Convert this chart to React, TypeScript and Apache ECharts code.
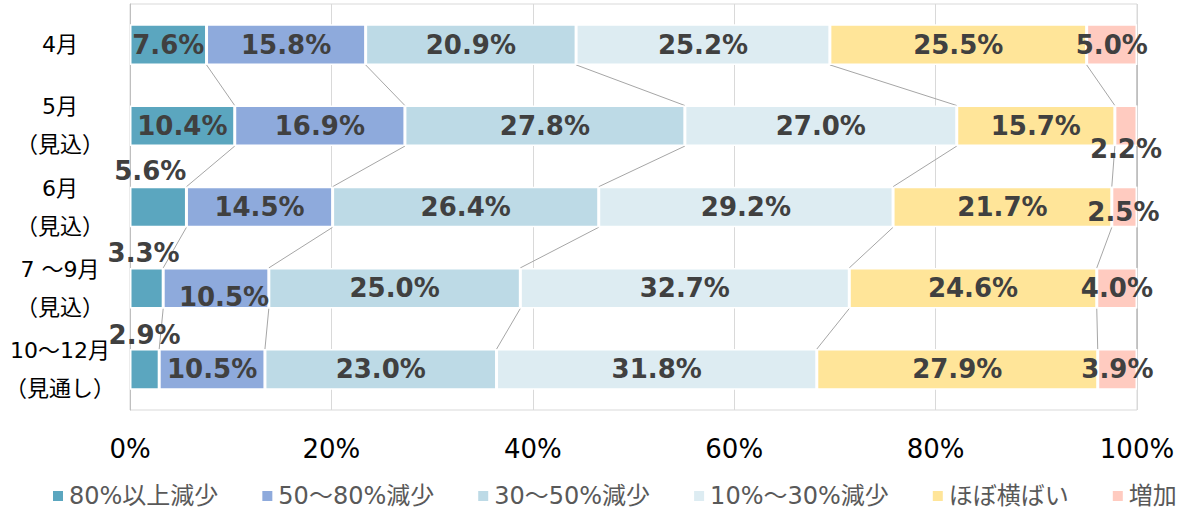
import React, { useEffect, useRef } from "react";
import * as echarts from "echarts";

const categories = [
  "4月",
  "5月\n（見込）",
  "6月\n（見込）",
  "7 ～9月\n（見込）",
  "10～12月\n（見通し）",
];
const seriesNames = [
  "80%以上減少",
  "50～80%減少",
  "30～50%減少",
  "10%～30%減少",
  "ほぼ横ばい",
  "増加",
];
const s80 = [7.6, 10.4, 5.6, 3.3, 2.9];
const s50 = [15.8, 16.9, 14.5, 10.5, 10.5];
const s30 = [20.9, 27.8, 26.4, 25.0, 23.0];
const s10 = [25.2, 27.0, 29.2, 32.7, 31.8];
const flat = [25.5, 15.7, 21.7, 24.6, 27.9];
const up = [5.0, 2.2, 2.5, 4.0, 3.9];
const xTicks = [0, 20, 40, 60, 80, 100];

const colors = ["#5BA6BF", "#8EAADC", "#BDDAE6", "#DDECF2", "#FFE599", "#FFCBC0"];

// label offsets (series index, category index) -> [dx, dy]
const labelOffsets: Record<string, [number, number]> = {
  "0-2": [-8, -36],
  "0-3": [-3, -35],
  "0-4": [0, -34],
  "1-3": [8, 9],
  "5-1": [0, 23],
  "5-2": [-1, 5],
};

const allSeries = [s80, s50, s30, s10, flat, up];

export default function App() {
  const ref = useRef<HTMLDivElement>(null);
  useEffect(() => {
    if (!ref.current) return;
    const chart = echarts.init(ref.current, undefined, { renderer: "svg" });

    const totals = categories.map((_, i) =>
      allSeries.reduce((a, s) => a + s[i], 0)
    );
    const norm = allSeries.map((s) => s.map((v, i) => (v / totals[i]) * 100));

    // cumulative boundaries
    const cum: number[][] = [];
    norm.forEach((s, k) => {
      cum.push(s.map((v, i) => (k === 0 ? v : cum[k - 1][i] + v)));
    });
    const linkData: number[][] = [];
    for (let k = 0; k < cum.length; k++) {
      for (let i = 0; i < categories.length - 1; i++) {
        linkData.push([cum[k][i], i, cum[k][i + 1]]);
      }
    }

    const barSeries = allSeries.map((s, k) => ({
      name: seriesNames[k],
      type: "bar",
      stack: "total",
      barCategoryGap: "50%",
      itemStyle: { color: colors[k], borderColor: "#ffffff", borderWidth: 1.5 },
      z: 3,
      data: s.map((v, i) => {
        const off = labelOffsets[`${k}-${i}`];
        const item: any = { value: norm[k][i], raw: v };
        if (off) item.label = { offset: off };
        return item;
      }),
      label: {
        show: true,
        position: "inside",
        fontFamily: "DejaVu Sans",
        fontWeight: "bold",
        fontSize: 26,
        color: "#404040",
        formatter: (p: any) => p.data.raw.toFixed(1) + "%",
      },
    }));

    chart.setOption({
      animation: false,
      backgroundColor: "#ffffff",
      grid: {
        left: 130,
        right: 46,
        top: 4,
        bottom: 107,
        containLabel: false,
        outerBoundsMode: "none",
        show: true,
        borderColor: "#d9d9d9",
        borderWidth: 1,
      },
      legend: {
        data: seriesNames,
        bottom: 4,
        left: 46,
        icon: "rect",
        itemWidth: 12,
        itemHeight: 12,
        itemGap: 42,
        textStyle: {
          fontFamily: "DejaVu Sans, Noto Sans CJK JP",
          fontSize: 24,
          color: "#595959",
        },
      },
      xAxis: {
        type: "value",
        min: 0,
        max: 100,
        interval: 20,
        axisLine: { show: false },
        axisTick: { show: false },
        splitLine: { show: true, lineStyle: { color: "#d9d9d9", width: 1 } },
        axisLabel: {
          formatter: (v: number) => (xTicks.includes(v) ? v + "%" : ""),
          fontFamily: "DejaVu Sans",
          fontSize: 26,
          color: "#000000",
          margin: 26,
        },
      },
      yAxis: {
        type: "category",
        inverse: true,
        data: categories,
        axisLine: { show: true, lineStyle: { color: "#bfbfbf", width: 1 } },
        axisTick: { show: false },
        axisLabel: {
          align: "center",
          margin: 70,
          fontFamily: "DejaVu Sans, Noto Sans CJK JP",
          fontSize: 22,
          lineHeight: 38,
          color: "#000000",
        },
      },
      series: [
        ...barSeries,
        {
          type: "custom",
          name: "links",
          z: 2,
          silent: true,
          encode: { x: 0, y: 1 },
          data: linkData,
          renderItem: (params: any, api: any) => {
            const x0 = api.value(0);
            const ci = api.value(1);
            const x1 = api.value(2);
            const p0 = api.coord([x0, ci]);
            const p1 = api.coord([x1, ci + 1]);
            const half = api.size([0, 1])[1] * 0.25;
            return {
              type: "line",
              shape: { x1: p0[0], y1: p0[1] + half, x2: p1[0], y2: p1[1] - half },
              style: { stroke: "#a6a6a6", lineWidth: 1 },
            };
          },
        },
      ],
    });
    return () => chart.dispose();
  }, []);
  return (
    <div
      ref={ref}
      style={{ position: "absolute", left: 0, top: 0, width: 1183, height: 517 }}
    />
  );
}
